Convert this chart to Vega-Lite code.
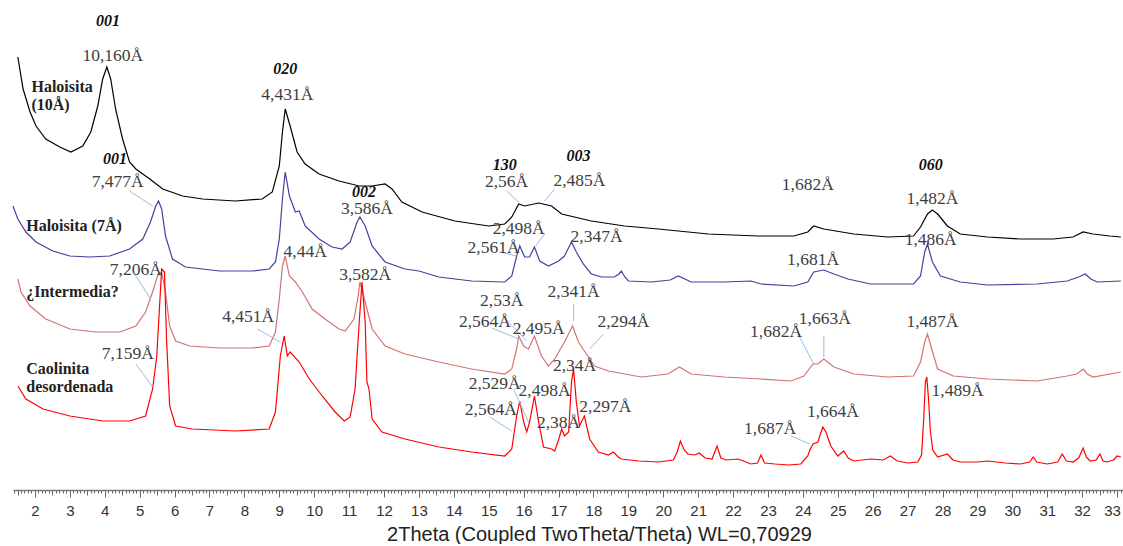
{
  "$schema": "https://vega.github.io/schema/vega-lite/v6.json",
  "width": 1110,
  "height": 490,
  "padding": {"left": 10, "top": 0, "right": 3, "bottom": 0},
  "background": "white",
  "config": {"view": {"stroke": null}},
  "datasets": {
    "traces": [
      {"s":"h10","theta":1.51,"i":433},{"s":"h10","theta":1.66,"i":401},{"s":"h10","theta":1.86,"i":378},{"s":"h10","theta":2.03,"i":364},{"s":"h10","theta":2.31,"i":351},{"s":"h10","theta":2.71,"i":343},{"s":"h10","theta":3.03,"i":338},{"s":"h10","theta":3.37,"i":344},{"s":"h10","theta":3.6,"i":358},{"s":"h10","theta":3.8,"i":384},{"s":"h10","theta":3.94,"i":411},{"s":"h10","theta":4.06,"i":423},{"s":"h10","theta":4.17,"i":411},{"s":"h10","theta":4.31,"i":381},{"s":"h10","theta":4.51,"i":351},{"s":"h10","theta":4.71,"i":328},{"s":"h10","theta":4.89,"i":321},{"s":"h10","theta":5.29,"i":311},{"s":"h10","theta":5.66,"i":301},{"s":"h10","theta":6.23,"i":294},{"s":"h10","theta":6.8,"i":291},{"s":"h10","theta":7.74,"i":289},{"s":"h10","theta":8.51,"i":291},{"s":"h10","theta":8.8,"i":298},{"s":"h10","theta":9.0,"i":324},{"s":"h10","theta":9.09,"i":358},{"s":"h10","theta":9.17,"i":381},{"s":"h10","theta":9.31,"i":364},{"s":"h10","theta":9.51,"i":338},{"s":"h10","theta":9.74,"i":326},{"s":"h10","theta":10.14,"i":316},{"s":"h10","theta":10.71,"i":309},{"s":"h10","theta":11.29,"i":304},{"s":"h10","theta":11.66,"i":304},{"s":"h10","theta":12.03,"i":306},{"s":"h10","theta":12.23,"i":301},{"s":"h10","theta":12.51,"i":288},{"s":"h10","theta":13.09,"i":278},{"s":"h10","theta":14.03,"i":269},{"s":"h10","theta":15.0,"i":264},{"s":"h10","theta":15.46,"i":266},{"s":"h10","theta":15.66,"i":273},{"s":"h10","theta":15.86,"i":286},{"s":"h10","theta":16.03,"i":284},{"s":"h10","theta":16.43,"i":287},{"s":"h10","theta":16.8,"i":284},{"s":"h10","theta":17.09,"i":276},{"s":"h10","theta":17.94,"i":269},{"s":"h10","theta":18.89,"i":264},{"s":"h10","theta":19.86,"i":261},{"s":"h10","theta":21.29,"i":256},{"s":"h10","theta":22.71,"i":254},{"s":"h10","theta":23.74,"i":254},{"s":"h10","theta":24.14,"i":258},{"s":"h10","theta":24.31,"i":264},{"s":"h10","theta":24.6,"i":261},{"s":"h10","theta":25.46,"i":256},{"s":"h10","theta":26.43,"i":253},{"s":"h10","theta":27.17,"i":254},{"s":"h10","theta":27.37,"i":263},{"s":"h10","theta":27.57,"i":276},{"s":"h10","theta":27.71,"i":280},{"s":"h10","theta":27.86,"i":276},{"s":"h10","theta":28.14,"i":264},{"s":"h10","theta":28.51,"i":256},{"s":"h10","theta":29.29,"i":253},{"s":"h10","theta":30.23,"i":251},{"s":"h10","theta":31.17,"i":251},{"s":"h10","theta":31.74,"i":253},{"s":"h10","theta":32.03,"i":258},{"s":"h10","theta":32.31,"i":256},{"s":"h10","theta":32.8,"i":254},{"s":"h10","theta":33.11,"i":253},

      {"s":"h7","theta":1.37,"i":284},{"s":"h7","theta":1.51,"i":271},{"s":"h7","theta":1.74,"i":258},{"s":"h7","theta":2.03,"i":248},{"s":"h7","theta":2.51,"i":239},{"s":"h7","theta":3.0,"i":234},{"s":"h7","theta":3.57,"i":233},{"s":"h7","theta":4.14,"i":234},{"s":"h7","theta":4.71,"i":241},{"s":"h7","theta":5.09,"i":251},{"s":"h7","theta":5.31,"i":268},{"s":"h7","theta":5.46,"i":284},{"s":"h7","theta":5.54,"i":289},{"s":"h7","theta":5.63,"i":281},{"s":"h7","theta":5.74,"i":254},{"s":"h7","theta":5.94,"i":231},{"s":"h7","theta":6.31,"i":223},{"s":"h7","theta":7.29,"i":219},{"s":"h7","theta":8.23,"i":219},{"s":"h7","theta":8.71,"i":221},{"s":"h7","theta":8.89,"i":228},{"s":"h7","theta":9.0,"i":251},{"s":"h7","theta":9.09,"i":291},{"s":"h7","theta":9.17,"i":318},{"s":"h7","theta":9.29,"i":294},{"s":"h7","theta":9.46,"i":278},{"s":"h7","theta":9.57,"i":279},{"s":"h7","theta":9.74,"i":264},{"s":"h7","theta":10.14,"i":251},{"s":"h7","theta":10.51,"i":243},{"s":"h7","theta":10.8,"i":241},{"s":"h7","theta":11.03,"i":248},{"s":"h7","theta":11.23,"i":268},{"s":"h7","theta":11.31,"i":273},{"s":"h7","theta":11.46,"i":264},{"s":"h7","theta":11.66,"i":244},{"s":"h7","theta":12.03,"i":228},{"s":"h7","theta":12.6,"i":221},{"s":"h7","theta":13.0,"i":219},{"s":"h7","theta":13.57,"i":213},{"s":"h7","theta":14.51,"i":209},{"s":"h7","theta":15.46,"i":208},{"s":"h7","theta":15.66,"i":214},{"s":"h7","theta":15.8,"i":234},{"s":"h7","theta":15.89,"i":244},{"s":"h7","theta":16.03,"i":233},{"s":"h7","theta":16.17,"i":233},{"s":"h7","theta":16.31,"i":243},{"s":"h7","theta":16.46,"i":229},{"s":"h7","theta":16.71,"i":224},{"s":"h7","theta":17.0,"i":229},{"s":"h7","theta":17.17,"i":234},{"s":"h7","theta":17.37,"i":248},{"s":"h7","theta":17.51,"i":238},{"s":"h7","theta":17.71,"i":226},{"s":"h7","theta":17.94,"i":216},{"s":"h7","theta":18.23,"i":213},{"s":"h7","theta":18.6,"i":213},{"s":"h7","theta":18.73,"i":216},{"s":"h7","theta":18.8,"i":219},{"s":"h7","theta":18.9,"i":213},{"s":"h7","theta":19.0,"i":209},{"s":"h7","theta":19.66,"i":208},{"s":"h7","theta":20.2,"i":210},{"s":"h7","theta":20.43,"i":214},{"s":"h7","theta":20.8,"i":208},{"s":"h7","theta":21.74,"i":208},{"s":"h7","theta":22.51,"i":209},{"s":"h7","theta":22.8,"i":206},{"s":"h7","theta":23.74,"i":204},{"s":"h7","theta":24.14,"i":208},{"s":"h7","theta":24.31,"i":218},{"s":"h7","theta":24.6,"i":220},{"s":"h7","theta":24.89,"i":216},{"s":"h7","theta":25.29,"i":211},{"s":"h7","theta":25.94,"i":206},{"s":"h7","theta":27.17,"i":206},{"s":"h7","theta":27.37,"i":214},{"s":"h7","theta":27.49,"i":238},{"s":"h7","theta":27.57,"i":246},{"s":"h7","theta":27.71,"i":228},{"s":"h7","theta":27.94,"i":214},{"s":"h7","theta":28.51,"i":208},{"s":"h7","theta":29.29,"i":205},{"s":"h7","theta":30.71,"i":206},{"s":"h7","theta":31.57,"i":209},{"s":"h7","theta":31.9,"i":213},{"s":"h7","theta":32.09,"i":216},{"s":"h7","theta":32.25,"i":211},{"s":"h7","theta":32.43,"i":208},{"s":"h7","theta":33.11,"i":209},

      {"s":"int","theta":1.51,"i":211},{"s":"int","theta":1.6,"i":198},{"s":"int","theta":1.86,"i":184},{"s":"int","theta":2.31,"i":171},{"s":"int","theta":3.0,"i":161},{"s":"int","theta":3.74,"i":158},{"s":"int","theta":4.43,"i":158},{"s":"int","theta":4.89,"i":164},{"s":"int","theta":5.17,"i":178},{"s":"int","theta":5.37,"i":198},{"s":"int","theta":5.51,"i":214},{"s":"int","theta":5.63,"i":218},{"s":"int","theta":5.74,"i":198},{"s":"int","theta":5.86,"i":164},{"s":"int","theta":6.03,"i":149},{"s":"int","theta":6.43,"i":144},{"s":"int","theta":7.29,"i":142},{"s":"int","theta":8.23,"i":142},{"s":"int","theta":8.71,"i":144},{"s":"int","theta":8.89,"i":158},{"s":"int","theta":9.0,"i":191},{"s":"int","theta":9.09,"i":224},{"s":"int","theta":9.17,"i":234},{"s":"int","theta":9.29,"i":214},{"s":"int","theta":9.46,"i":208},{"s":"int","theta":9.66,"i":198},{"s":"int","theta":9.94,"i":181},{"s":"int","theta":10.31,"i":171},{"s":"int","theta":10.71,"i":161},{"s":"int","theta":10.89,"i":159},{"s":"int","theta":11.14,"i":171},{"s":"int","theta":11.26,"i":194},{"s":"int","theta":11.31,"i":208},{"s":"int","theta":11.46,"i":188},{"s":"int","theta":11.66,"i":161},{"s":"int","theta":12.03,"i":144},{"s":"int","theta":12.6,"i":136},{"s":"int","theta":13.57,"i":128},{"s":"int","theta":14.51,"i":121},{"s":"int","theta":15.46,"i":116},{"s":"int","theta":15.66,"i":121},{"s":"int","theta":15.8,"i":141},{"s":"int","theta":15.86,"i":154},{"s":"int","theta":16.0,"i":144},{"s":"int","theta":16.14,"i":141},{"s":"int","theta":16.31,"i":154},{"s":"int","theta":16.51,"i":134},{"s":"int","theta":16.71,"i":124},{"s":"int","theta":16.89,"i":131},{"s":"int","theta":17.17,"i":148},{"s":"int","theta":17.4,"i":164},{"s":"int","theta":17.57,"i":148},{"s":"int","theta":17.74,"i":139},{"s":"int","theta":18.03,"i":124},{"s":"int","theta":18.43,"i":119},{"s":"int","theta":19.37,"i":113},{"s":"int","theta":20.14,"i":116},{"s":"int","theta":20.46,"i":123},{"s":"int","theta":20.8,"i":116},{"s":"int","theta":21.74,"i":113},{"s":"int","theta":22.8,"i":111},{"s":"int","theta":23.66,"i":109},{"s":"int","theta":24.03,"i":114},{"s":"int","theta":24.29,"i":126},{"s":"int","theta":24.43,"i":126},{"s":"int","theta":24.6,"i":131},{"s":"int","theta":24.89,"i":123},{"s":"int","theta":25.46,"i":116},{"s":"int","theta":26.43,"i":113},{"s":"int","theta":27.17,"i":114},{"s":"int","theta":27.37,"i":128},{"s":"int","theta":27.49,"i":148},{"s":"int","theta":27.57,"i":156},{"s":"int","theta":27.69,"i":141},{"s":"int","theta":27.86,"i":121},{"s":"int","theta":28.31,"i":114},{"s":"int","theta":29.29,"i":111},{"s":"int","theta":30.71,"i":109},{"s":"int","theta":31.57,"i":114},{"s":"int","theta":31.85,"i":116},{"s":"int","theta":32.03,"i":121},{"s":"int","theta":32.15,"i":116},{"s":"int","theta":32.31,"i":113},{"s":"int","theta":33.11,"i":118},

      {"s":"cao","theta":1.51,"i":104},{"s":"cao","theta":1.74,"i":91},{"s":"cao","theta":2.23,"i":81},{"s":"cao","theta":3.0,"i":74},{"s":"cao","theta":3.94,"i":69},{"s":"cao","theta":4.71,"i":69},{"s":"cao","theta":5.17,"i":74},{"s":"cao","theta":5.37,"i":101},{"s":"cao","theta":5.49,"i":134},{"s":"cao","theta":5.57,"i":184},{"s":"cao","theta":5.63,"i":221},{"s":"cao","theta":5.71,"i":218},{"s":"cao","theta":5.77,"i":151},{"s":"cao","theta":5.86,"i":84},{"s":"cao","theta":6.03,"i":64},{"s":"cao","theta":6.51,"i":61},{"s":"cao","theta":7.74,"i":59},{"s":"cao","theta":8.71,"i":61},{"s":"cao","theta":8.89,"i":78},{"s":"cao","theta":9.03,"i":134},{"s":"cao","theta":9.14,"i":154},{"s":"cao","theta":9.23,"i":134},{"s":"cao","theta":9.31,"i":138},{"s":"cao","theta":9.57,"i":128},{"s":"cao","theta":9.86,"i":111},{"s":"cao","theta":10.23,"i":94},{"s":"cao","theta":10.6,"i":78},{"s":"cao","theta":10.86,"i":69},{"s":"cao","theta":11.03,"i":73},{"s":"cao","theta":11.17,"i":101},{"s":"cao","theta":11.29,"i":168},{"s":"cao","theta":11.37,"i":208},{"s":"cao","theta":11.46,"i":168},{"s":"cao","theta":11.51,"i":108},{"s":"cao","theta":11.57,"i":101},{"s":"cao","theta":11.66,"i":71},{"s":"cao","theta":11.94,"i":58},{"s":"cao","theta":12.6,"i":51},{"s":"cao","theta":13.57,"i":43},{"s":"cao","theta":14.51,"i":38},{"s":"cao","theta":15.46,"i":34},{"s":"cao","theta":15.66,"i":41},{"s":"cao","theta":15.8,"i":74},{"s":"cao","theta":15.89,"i":89},{"s":"cao","theta":16.0,"i":68},{"s":"cao","theta":16.09,"i":58},{"s":"cao","theta":16.17,"i":68},{"s":"cao","theta":16.31,"i":94},{"s":"cao","theta":16.43,"i":68},{"s":"cao","theta":16.57,"i":43},{"s":"cao","theta":16.8,"i":41},{"s":"cao","theta":16.89,"i":39},{"s":"cao","theta":17.0,"i":50},{"s":"cao","theta":17.09,"i":61},{"s":"cao","theta":17.17,"i":54},{"s":"cao","theta":17.29,"i":58},{"s":"cao","theta":17.37,"i":108},{"s":"cao","theta":17.43,"i":121},{"s":"cao","theta":17.51,"i":88},{"s":"cao","theta":17.6,"i":64},{"s":"cao","theta":17.74,"i":74},{"s":"cao","theta":17.89,"i":51},{"s":"cao","theta":18.14,"i":38},{"s":"cao","theta":18.43,"i":35},{"s":"cao","theta":18.57,"i":38},{"s":"cao","theta":18.71,"i":33},{"s":"cao","theta":18.8,"i":31},{"s":"cao","theta":19.3,"i":29},{"s":"cao","theta":19.86,"i":28},{"s":"cao","theta":20.29,"i":30},{"s":"cao","theta":20.4,"i":38},{"s":"cao","theta":20.49,"i":49},{"s":"cao","theta":20.6,"i":40},{"s":"cao","theta":20.71,"i":36},{"s":"cao","theta":20.9,"i":35},{"s":"cao","theta":21.03,"i":37},{"s":"cao","theta":21.2,"i":32},{"s":"cao","theta":21.4,"i":31},{"s":"cao","theta":21.54,"i":44},{"s":"cao","theta":21.65,"i":32},{"s":"cao","theta":21.8,"i":30},{"s":"cao","theta":22.14,"i":31},{"s":"cao","theta":22.3,"i":29},{"s":"cao","theta":22.51,"i":26},{"s":"cao","theta":22.7,"i":27},{"s":"cao","theta":22.8,"i":35},{"s":"cao","theta":22.9,"i":27},{"s":"cao","theta":23.2,"i":26},{"s":"cao","theta":23.6,"i":25},{"s":"cao","theta":23.94,"i":26},{"s":"cao","theta":24.14,"i":34},{"s":"cao","theta":24.2,"i":40},{"s":"cao","theta":24.29,"i":46},{"s":"cao","theta":24.43,"i":48},{"s":"cao","theta":24.57,"i":63},{"s":"cao","theta":24.66,"i":58},{"s":"cao","theta":24.8,"i":44},{"s":"cao","theta":25.0,"i":34},{"s":"cao","theta":25.17,"i":39},{"s":"cao","theta":25.3,"i":32},{"s":"cao","theta":25.46,"i":29},{"s":"cao","theta":25.94,"i":31},{"s":"cao","theta":26.3,"i":30},{"s":"cao","theta":26.51,"i":34},{"s":"cao","theta":26.7,"i":29},{"s":"cao","theta":27.0,"i":27},{"s":"cao","theta":27.29,"i":28},{"s":"cao","theta":27.4,"i":35},{"s":"cao","theta":27.46,"i":70},{"s":"cao","theta":27.51,"i":108},{"s":"cao","theta":27.55,"i":113},{"s":"cao","theta":27.6,"i":91},{"s":"cao","theta":27.65,"i":60},{"s":"cao","theta":27.72,"i":40},{"s":"cao","theta":27.86,"i":33},{"s":"cao","theta":28.14,"i":36},{"s":"cao","theta":28.3,"i":30},{"s":"cao","theta":28.51,"i":28},{"s":"cao","theta":29.0,"i":28},{"s":"cao","theta":29.29,"i":29},{"s":"cao","theta":29.8,"i":27},{"s":"cao","theta":30.23,"i":26},{"s":"cao","theta":30.5,"i":28},{"s":"cao","theta":30.6,"i":33},{"s":"cao","theta":30.7,"i":28},{"s":"cao","theta":31.0,"i":26},{"s":"cao","theta":31.3,"i":28},{"s":"cao","theta":31.43,"i":36},{"s":"cao","theta":31.55,"i":29},{"s":"cao","theta":31.74,"i":28},{"s":"cao","theta":31.9,"i":32},{"s":"cao","theta":32.03,"i":42},{"s":"cao","theta":32.12,"i":33},{"s":"cao","theta":32.23,"i":29},{"s":"cao","theta":32.4,"i":30},{"s":"cao","theta":32.51,"i":36},{"s":"cao","theta":32.6,"i":29},{"s":"cao","theta":32.71,"i":28},{"s":"cao","theta":32.9,"i":30},{"s":"cao","theta":33.0,"i":34},{"s":"cao","theta":33.11,"i":33}
    ],
    "dlabels": [
      {"t":"10,160Å","theta":4.23,"i":434},
      {"t":"4,431Å","theta":9.23,"i":395},
      {"t":"7,477Å","theta":4.37,"i":308},
      {"t":"3,586Å","theta":11.51,"i":281},
      {"t":"2,56Å","theta":15.51,"i":308},
      {"t":"2,485Å","theta":17.6,"i":309},
      {"t":"2,498Å","theta":15.86,"i":261},
      {"t":"2,561Å","theta":15.14,"i":242},
      {"t":"2,347Å","theta":18.09,"i":253},
      {"t":"4,44Å","theta":9.74,"i":238},
      {"t":"7,206Å","theta":4.89,"i":220},
      {"t":"3,582Å","theta":11.46,"i":215},
      {"t":"4,451Å","theta":8.11,"i":173},
      {"t":"7,159Å","theta":4.66,"i":136},
      {"t":"2,53Å","theta":15.37,"i":189},
      {"t":"2,564Å","theta":14.89,"i":168},
      {"t":"2,495Å","theta":16.43,"i":161},
      {"t":"2,341Å","theta":17.43,"i":198},
      {"t":"2,294Å","theta":18.86,"i":168},
      {"t":"2,34Å","theta":17.46,"i":124},
      {"t":"2,529Å","theta":15.17,"i":106},
      {"t":"2,498Å","theta":16.6,"i":99},
      {"t":"2,564Å","theta":15.06,"i":80},
      {"t":"2,38Å","theta":17.0,"i":67},
      {"t":"2,297Å","theta":18.34,"i":83},
      {"t":"1,682Å","theta":24.14,"i":305},
      {"t":"1,482Å","theta":27.71,"i":291},
      {"t":"1,681Å","theta":24.29,"i":230},
      {"t":"1,486Å","theta":27.66,"i":250},
      {"t":"1,682Å","theta":23.23,"i":158},
      {"t":"1,663Å","theta":24.63,"i":171},
      {"t":"1,487Å","theta":27.71,"i":168},
      {"t":"1,687Å","theta":23.06,"i":61},
      {"t":"1,664Å","theta":24.86,"i":78},
      {"t":"1,489Å","theta":28.43,"i":99}
    ],
    "hkl": [
      {"t":"001","theta":4.09,"i":469},
      {"t":"020","theta":9.17,"i":421},
      {"t":"001","theta":4.29,"i":331},
      {"t":"002","theta":11.43,"i":298},
      {"t":"130","theta":15.46,"i":325},
      {"t":"003","theta":17.57,"i":334},
      {"t":"060","theta":27.66,"i":325}
    ],
    "names": [
      {"t":"Haloisita","theta":1.9,"i":403},
      {"t":"(10Å)","theta":1.9,"i":385},
      {"t":"Haloisita (7Å)","theta":1.75,"i":264},
      {"t":"¿Intermedia?","theta":1.75,"i":198},
      {"t":"Caolinita","theta":1.75,"i":121},
      {"t":"desordenada","theta":1.75,"i":103}
    ],
    "leaders": [
      {"theta":4.71,"i":299,"theta2":5.37,"i2":284},
      {"theta":15.51,"i":299,"theta2":15.86,"i2":288},
      {"theta":16.89,"i":301,"theta2":16.6,"i2":289},
      {"theta":16.6,"i":256,"theta2":16.34,"i2":244},
      {"theta":15.31,"i":238,"theta2":15.8,"i2":234},
      {"theta":4.86,"i":216,"theta2":5.31,"i2":191},
      {"theta":8.37,"i":161,"theta2":9.03,"i2":148},
      {"theta":4.89,"i":126,"theta2":5.37,"i2":103},
      {"theta":15.43,"i":173,"theta2":16.09,"i2":149},
      {"theta":15.09,"i":162,"theta2":15.86,"i2":151},
      {"theta":17.43,"i":186,"theta2":17.43,"i2":169},
      {"theta":18.29,"i":156,"theta2":17.89,"i2":141},
      {"theta":15.71,"i":101,"theta2":16.14,"i2":68},
      {"theta":15.03,"i":73,"theta2":15.66,"i2":59},
      {"theta":23.86,"i":156,"theta2":24.31,"i2":126},
      {"theta":24.6,"i":154,"theta2":24.6,"i2":133},
      {"theta":23.66,"i":54,"theta2":24.2,"i2":46}
    ]
  },
  "encoding": {
    "x": {"field": "theta", "type": "quantitative",
      "scale": {"domain": [1.371, 33.171], "nice": false, "zero": false},
      "axis": {
        "title": "2Theta (Coupled TwoTheta/Theta) WL=0,70929",
        "titleFont": "Liberation Sans", "titleFontSize": 20, "titleFontWeight": "normal", "titleColor": "#222",
        "titlePadding": 6, "titleX": 586,
        "tickCount": 318,
        "labelExpr": "abs(datum.value - round(datum.value)) < 0.01 ? format(round(datum.value), 'd') : ''",
        "labelOverlap": false, "labelFlush": false, "labelBound": false,
        "labelFont": "Liberation Sans", "labelFontSize": 15, "labelColor": "#333", "labelPadding": 6,
        "labelOffset": {"condition": {"test": "datum.value > 32.5", "value": -5}, "value": 0},
        "domainColor": "#777", "domainWidth": 1.5,
        "tickColor": "#666", "tickWidth": 1,
        "tickSize": {"condition": [
          {"test": "abs(datum.value - round(datum.value)) < 0.01", "value": 7},
          {"test": "abs(datum.value*2 - round(datum.value*2)) < 0.01", "value": 5}
        ], "value": 3},
        "grid": false
      }
    },
    "y": {"field": "i", "type": "quantitative", "scale": {"domain": [0, 490], "nice": false}, "axis": null}
  },
  "layer": [
    {
      "data": {"name": "traces"},
      "mark": {"type": "line", "strokeWidth": 1.2},
      "encoding": {
        "color": {"field": "s", "type": "nominal", "scale": {"domain": ["h10","h7","int","cao"], "range": ["#000000","#4a3d9c","#d27373","#ff0000"]}, "legend": null},
        "order": {"field": "theta", "type": "quantitative"}
      }
    },
    {
      "data": {"name": "leaders"},
      "mark": {"type": "rule", "color": "#9dbbe3", "strokeWidth": 1},
      "encoding": {
        "x2": {"field": "theta2"},
        "y2": {"field": "i2"}
      }
    },
    {
      "data": {"name": "dlabels"},
      "mark": {"type": "text", "font": "Liberation Serif", "fontSize": 17.5, "color": "#3d3d3d", "baseline": "middle", "align": "center"},
      "encoding": {"text": {"field": "t"}}
    },
    {
      "data": {"name": "hkl"},
      "mark": {"type": "text", "font": "Liberation Serif", "fontSize": 16, "fontWeight": "bold", "fontStyle": "italic", "color": "#111", "baseline": "middle", "align": "center"},
      "encoding": {"text": {"field": "t"}}
    },
    {
      "data": {"name": "names"},
      "mark": {"type": "text", "font": "Liberation Serif", "fontSize": 16, "fontWeight": "bold", "color": "#222", "baseline": "middle", "align": "left"},
      "encoding": {"text": {"field": "t"}}
    }
  ]
}
